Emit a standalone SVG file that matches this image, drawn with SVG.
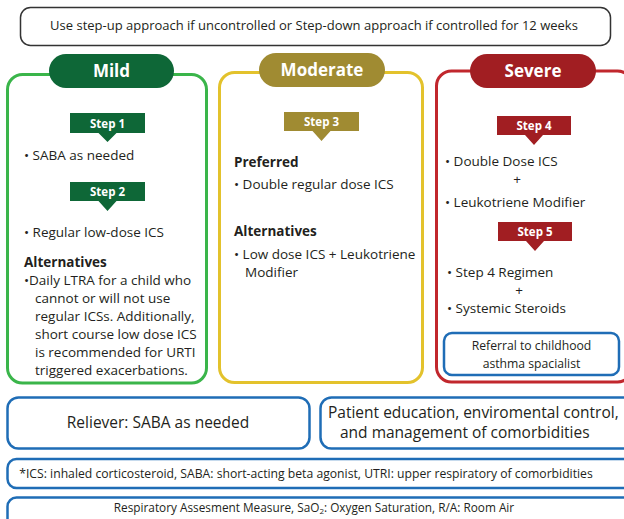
<svg xmlns="http://www.w3.org/2000/svg" width="624" height="519" viewBox="0 0 624 519">
<style>
text{font-family:"Open Sans","Noto Sans","Liberation Sans",sans-serif;fill:#231f20;}
.t{font-size:13.5px;}
.b{font-size:13.5px;font-weight:bold;}
.pill{font-size:17px;font-weight:bold;fill:#fff;}
.step{font-size:11.5px;font-weight:bold;fill:#fff;}
.blue{fill:#fff;stroke:#1f6db6;stroke-width:2.5;}
.sm{font-size:12.2px;}
.big{font-size:15.5px;}
</style>
<rect width="624" height="519" fill="#fff"/>
<g id="top">
<rect x="20.5" y="7.5" width="590" height="38" rx="10" fill="#fff" stroke="#333" stroke-width="1.5"/>
<text x="314" y="29.5" text-anchor="middle" font-size="13">Use step-up approach if uncontrolled or Step-down approach if controlled for 12 weeks</text>
</g>
<g id="mild">
<rect x="7.5" y="74.5" width="199" height="308.5" rx="15" fill="#fff" stroke="#3ab54a" stroke-width="3"/>
<rect x="49" y="54" width="125" height="34" rx="17" fill="#0e6737"/>
<text class="pill" x="111.5" y="77" text-anchor="middle">Mild</text>
<path d="M70 113H145V133H116.5L107.5 142L98.5 133H70Z" fill="#0e6737"/>
<text class="step" x="107.5" y="127.5" text-anchor="middle">Step 1</text>
<text class="t" x="24" y="160">• SABA as needed</text>
<path d="M70 182H145V201H116.5L107.5 211L98.5 201H70Z" fill="#0e6737"/>
<text class="step" x="107.5" y="196" text-anchor="middle">Step 2</text>
<text class="t" x="24" y="236.5">• Regular low-dose ICS</text>
<text class="b" x="24" y="266.5">Alternatives</text>
<text class="t" x="24" y="285">•Daily LTRA for a child who</text>
<text class="t" x="35" y="303">cannot or will not use</text>
<text class="t" x="35" y="321">regular ICSs. Additionally,</text>
<text class="t" x="35" y="339">short course low dose ICS</text>
<text class="t" x="35" y="357">is recommended for URTI</text>
<text class="t" x="35" y="375">triggered exacerbations.</text>
</g>
<g id="moderate">
<rect x="219.5" y="72.5" width="203" height="310" rx="15" fill="#fff" stroke="#e3c22c" stroke-width="3"/>
<rect x="259" y="53" width="126" height="34" rx="17" fill="#a08b32"/>
<text class="pill" x="322" y="76" text-anchor="middle">Moderate</text>
<path d="M284 112H359V131H330.5L321.5 141L312.5 131H284Z" fill="#a08b32"/>
<text class="step" x="321.5" y="126" text-anchor="middle">Step 3</text>
<text class="b" x="234" y="166.5">Preferred</text>
<text class="t" x="234" y="189">• Double regular dose ICS</text>
<text class="b" x="234" y="235.5">Alternatives</text>
<text class="t" x="234" y="259">• Low dose ICS + Leukotriene</text>
<text class="t" x="245" y="277">Modifier</text>
</g>
<g id="severe">
<rect x="436.5" y="71" width="196" height="311" rx="15" fill="#fff" stroke="#c1272d" stroke-width="3"/>
<rect x="470" y="54" width="126" height="34" rx="17" fill="#a11e22"/>
<text class="pill" x="533" y="77" text-anchor="middle">Severe</text>
<path d="M497 116H571V135H543L534 145L525 135H497Z" fill="#a11e22"/>
<text class="step" x="534" y="130" text-anchor="middle">Step 4</text>
<text class="t" x="445" y="166">• Double Dose ICS</text>
<text class="t" x="517" y="184" text-anchor="middle">+</text>
<text class="t" x="445" y="206.5">• Leukotriene Modifier</text>
<path d="M498 222H572V241H544L535 251L526 241H498Z" fill="#a11e22"/>
<text class="step" x="535" y="236" text-anchor="middle">Step 5</text>
<text class="t" x="447" y="276.5">• Step 4 Regimen</text>
<text class="t" x="519" y="295" text-anchor="middle">+</text>
<text class="t" x="447" y="313">• Systemic Steroids</text>
</g>
<g id="referral">
<rect x="444" y="333" width="175" height="42" rx="8" class="blue" stroke-width="2"/>
<text class="sm" x="531.5" y="349.5" text-anchor="middle">Referral to childhood</text>
<text class="sm" x="531.5" y="367.5" text-anchor="middle">asthma spacialist</text>
</g>
<g id="reliever">
<rect x="7.5" y="397.5" width="302" height="51" rx="11" class="blue"/>
<text class="big" x="158" y="428" text-anchor="middle">Reliever: SABA as needed</text>
</g>
<g id="education">
<rect x="320.5" y="397.5" width="320" height="51" rx="11" class="blue"/>
<text class="big" x="328" y="418">Patient education, enviromental control,</text>
<text class="big" x="340" y="438">and management of comorbidities</text>
</g>
<g id="footnote1">
<rect x="7.5" y="459" width="630" height="29" rx="9" class="blue"/>
<text class="sm" x="306" y="478" text-anchor="middle">*ICS: inhaled corticosteroid, SABA: short-acting beta agonist, UTRI: upper respiratory of comorbidities</text>
</g>
<g id="footnote2">
<rect x="7.5" y="497.5" width="630" height="40" rx="9" class="blue"/>
<text x="314" y="512" text-anchor="middle" font-size="11.8">Respiratory Assesment Measure, SaO<tspan font-size="8" dy="2">2</tspan><tspan dy="-2">: Oxygen Saturation, R/A: Room Air</tspan></text>
</g>
<g id="connectors"></g>
</svg>
